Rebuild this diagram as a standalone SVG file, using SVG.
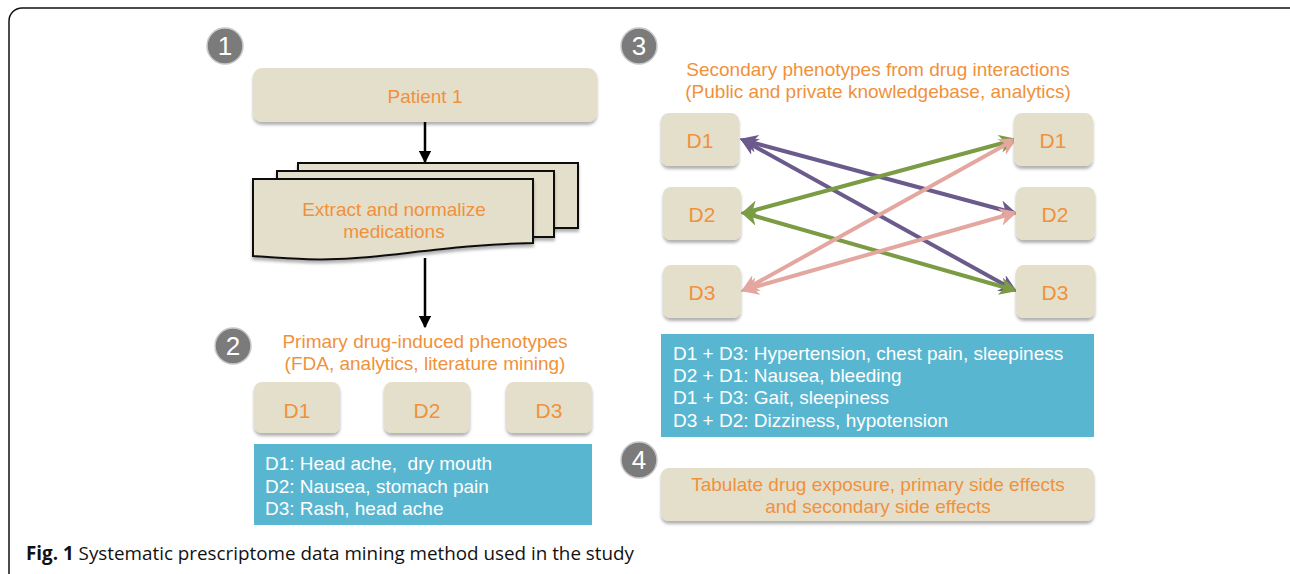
<svg xmlns="http://www.w3.org/2000/svg" width="1290" height="574" viewBox="0 0 1290 574">
<defs>
<style>
.box{fill:#e4dfcb;filter:url(#sh)}
.ot{font-family:"Liberation Sans",Arial,sans-serif;fill:#f0913c;text-anchor:middle}
.wt{font-family:"Liberation Sans",Arial,sans-serif;fill:#ffffff;font-size:19px}
.blue{fill:#59b6d0}
.num{fill:#7b7b7b;stroke:#c8c8c8;stroke-width:1.5}
.nt{font-family:"Liberation Sans",Arial,sans-serif;fill:#ffffff;font-size:26px;text-anchor:middle}
.doc{fill:#e4dfcb;stroke:#111;stroke-width:2}
.pu{stroke:#6b5a8c;stroke-width:4;fill:none}
.gr{stroke:#7b9b45;stroke-width:4;fill:none}
.pk{stroke:#e3a7a0;stroke-width:4;fill:none}
</style>
<filter id="sh" x="-10%" y="-10%" width="120%" height="140%">
<feDropShadow dx="0" dy="3" stdDeviation="1.5" flood-color="#000" flood-opacity="0.3"/>
</filter>
<marker id="ab" viewBox="0 0 10 10" refX="9" refY="5" markerWidth="5" markerHeight="5" orient="auto-start-reverse"><path d="M0,0L10,5L0,10z" fill="#000"/></marker>
<marker id="apu" viewBox="0 0 10 10" refX="8" refY="5" markerWidth="4.5" markerHeight="4.5" orient="auto-start-reverse"><path d="M0,0L10,5L0,10L3,5z" fill="#6b5a8c"/></marker>
<marker id="agr" viewBox="0 0 10 10" refX="8" refY="5" markerWidth="4.5" markerHeight="4.5" orient="auto-start-reverse"><path d="M0,0L10,5L0,10L3,5z" fill="#7b9b45"/></marker>
<marker id="apk" viewBox="0 0 10 10" refX="8" refY="5" markerWidth="4.5" markerHeight="4.5" orient="auto-start-reverse"><path d="M0,0L10,5L0,10L3,5z" fill="#e3a7a0"/></marker>
</defs>
<rect x="0" y="0" width="1290" height="574" fill="#ffffff"/>
<rect id="frame" x="9" y="8" width="1300" height="580" rx="13" fill="none" stroke="#111" stroke-width="1.5"/>

<g id="connectors">
<line x1="425" y1="122" x2="425" y2="162" stroke="#000" stroke-width="2.5" marker-end="url(#ab)"/>
<line x1="425" y1="258" x2="425" y2="327" stroke="#000" stroke-width="2.5" marker-end="url(#ab)"/>
<line class="pu" x1="743" y1="140" x2="1014" y2="213" marker-start="url(#apu)" marker-end="url(#apu)"/>
<line class="pu" x1="743" y1="140" x2="1014" y2="290" marker-start="url(#apu)" marker-end="url(#apu)"/>
<line class="gr" x1="1014" y1="140" x2="744" y2="213" marker-start="url(#agr)" marker-end="url(#agr)"/>
<line class="gr" x1="744" y1="213" x2="1014" y2="290" marker-start="url(#agr)" marker-end="url(#agr)"/>
<line class="pk" x1="1014" y1="140" x2="744" y2="290" marker-start="url(#apk)" marker-end="url(#apk)"/>
<line class="pk" x1="1014" y1="213" x2="744" y2="290" marker-start="url(#apk)" marker-end="url(#apk)"/>
</g>

<g id="n1"><circle class="num" cx="225" cy="46" r="18"/><text class="nt" x="225" y="55">1</text></g>
<g id="patient"><rect class="box" x="253" y="68" width="344" height="54" rx="9"/><text class="ot" x="425" y="103" font-size="19">Patient 1</text></g>
<g id="extract">
<rect class="doc" x="298" y="163" width="280" height="65" filter="url(#sh)"/>
<rect class="doc" x="277" y="171" width="277" height="66" filter="url(#sh)"/>
<path class="doc" d="M253,179H533V243C470,244 420,252 370,257C320,262 280,258 253,256Z" filter="url(#sh)"/>
<text class="ot" x="394" y="216" font-size="19">Extract and normalize</text>
<text class="ot" x="394" y="238" font-size="19">medications</text>
</g>

<g id="n2"><circle class="num" cx="233" cy="346" r="18"/><text class="nt" x="233" y="355">2</text></g>
<g id="title2"><text class="ot" x="425" y="348" font-size="19">Primary drug-induced phenotypes</text><text class="ot" x="425" y="370" font-size="19">(FDA, analytics, literature mining)</text></g>
<g id="p-d1"><rect class="box" x="254" y="382" width="86" height="51" rx="8"/><text class="ot" x="297" y="418" font-size="21">D1</text></g>
<g id="p-d2"><rect class="box" x="384" y="382" width="86" height="51" rx="8"/><text class="ot" x="427" y="418" font-size="21">D2</text></g>
<g id="p-d3"><rect class="box" x="506" y="382" width="86" height="51" rx="8"/><text class="ot" x="549" y="418" font-size="21">D3</text></g>
<g id="primary-list"><rect class="blue" x="254" y="444" width="338" height="81"/>
<text class="wt" x="265" y="470">D1: Head ache, &#160;dry mouth</text>
<text class="wt" x="265" y="493">D2: Nausea, stomach pain</text>
<text class="wt" x="265" y="515">D3: Rash, head ache</text></g>

<g id="n3"><circle class="num" cx="639" cy="46" r="18"/><text class="nt" x="639" y="55">3</text></g>
<g id="title3"><text class="ot" x="878" y="76" font-size="19">Secondary phenotypes from drug interactions</text><text class="ot" x="878" y="98" font-size="19">(Public and private knowledgebase, analytics)</text></g>
<g id="l-d1"><rect class="box" x="661" y="113" width="78" height="53" rx="8"/><text class="ot" x="700" y="148" font-size="21">D1</text></g>
<g id="l-d2"><rect class="box" x="663" y="187" width="78" height="53" rx="8"/><text class="ot" x="702" y="222" font-size="21">D2</text></g>
<g id="l-d3"><rect class="box" x="663" y="265" width="78" height="53" rx="8"/><text class="ot" x="702" y="300" font-size="21">D3</text></g>
<g id="r-d1"><rect class="box" x="1014" y="113" width="79" height="53" rx="8"/><text class="ot" x="1053" y="148" font-size="21">D1</text></g>
<g id="r-d2"><rect class="box" x="1016" y="187" width="79" height="53" rx="8"/><text class="ot" x="1055" y="222" font-size="21">D2</text></g>
<g id="r-d3"><rect class="box" x="1016" y="265" width="79" height="53" rx="8"/><text class="ot" x="1055" y="300" font-size="21">D3</text></g>
<g id="secondary-list"><rect class="blue" x="661" y="334" width="433" height="103"/>
<text class="wt" x="673" y="360">D1 + D3: Hypertension, chest pain, sleepiness</text>
<text class="wt" x="673" y="382">D2 + D1: Nausea, bleeding</text>
<text class="wt" x="673" y="404">D1 + D3: Gait, sleepiness</text>
<text class="wt" x="673" y="427">D3 + D2: Dizziness, hypotension</text></g>

<g id="n4"><circle class="num" cx="639" cy="460" r="18"/><text class="nt" x="639" y="469">4</text></g>
<g id="tabulate"><rect class="box" x="661" y="468" width="433" height="53" rx="8"/>
<text class="ot" x="878" y="491" font-size="19">Tabulate drug exposure, primary side effects</text>
<text class="ot" x="878" y="513" font-size="19">and secondary side effects</text></g>

<text id="caption" x="26" y="560" font-family="'Open Sans',sans-serif" font-size="19" fill="#111" textLength="608" lengthAdjust="spacingAndGlyphs"><tspan font-weight="bold">Fig. 1</tspan> Systematic prescriptome data mining method used in the study</text>
</svg>
